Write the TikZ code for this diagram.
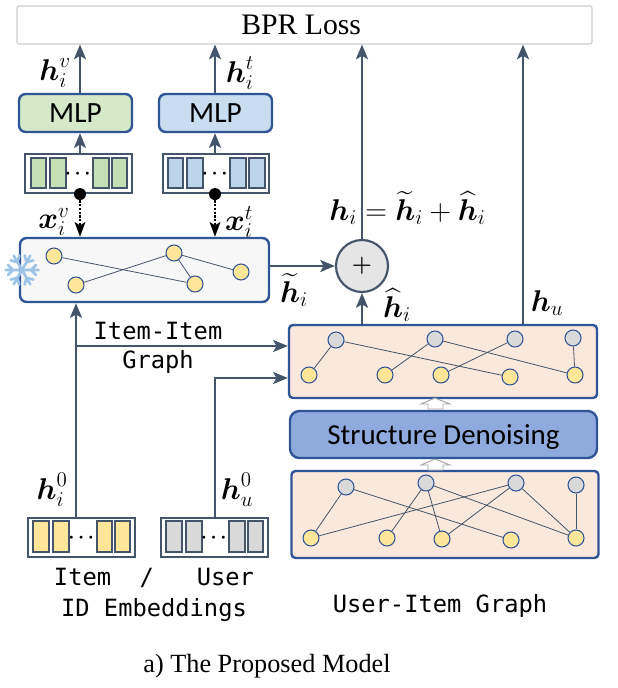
\documentclass[tikz,border=0pt]{standalone}
\usepackage{fix-cm}
\usepackage{amsmath}
\usepackage{fontspec}
\setmainfont{Liberation Serif}
\setmonofont{DejaVu Sans Mono}
\newfontfamily\calibrifont{Carlito}
\usetikzlibrary{arrows.meta}

\definecolor{boxblue}{HTML}{2F5597}
\definecolor{slate}{HTML}{44546A}
\definecolor{yellowfill}{HTML}{FFE699}
\definecolor{grayfill}{HTML}{D9D9D9}
\definecolor{peach}{HTML}{FBE8DC}
\definecolor{mlpgreen}{HTML}{D5E8C8}
\definecolor{mlpblue}{HTML}{C9DDF1}
\definecolor{cellgreen}{HTML}{C5DFB4}
\definecolor{cellblue}{HTML}{BBD4EC}
\definecolor{denoiseblue}{HTML}{8FAADC}
\definecolor{flake}{HTML}{9DC3E6}

\tikzset{
  box/.style={draw=boxblue,line width=1.8pt,rounded corners=5pt,inner sep=0pt},
  arrow/.style={draw=slate,line width=1.8pt,-{Stealth[length=11pt,width=9pt,inset=2.5pt]}},
  edge/.style={draw=slate,line width=0.6pt},
  vecbox/.style={draw=slate,line width=1.6pt},
  cell/.style={draw=slate,line width=1.2pt},
  item/.style={circle,draw=boxblue,line width=0.8pt,fill=yellowfill,minimum size=12pt,inner sep=0pt},
  user/.style={item,fill=grayfill},
  eq/.style={font=\fontsize{22.5}{25}\selectfont},
  mono/.style={font=\fontsize{17.8}{20}\ttfamily},
  hollow/.style={draw=gray!70,line width=0.7pt,fill=white}
}

\begin{document}
\begin{tikzpicture}[x=0.75pt,y=-0.75pt]
  \useasboundingbox (0,0) rectangle (617,688);

  % columns of the vertical arrows
  \coordinate (colv) at (80,0);
  \coordinate (colt) at (215,0);
  \coordinate (coli) at (76,0);
  \coordinate (colu) at (215,0);
  \coordinate (colh) at (362,0);
  \coordinate (colhu) at (523,0);

  % loss
  \node[draw=gray!40,line width=0.8pt,rounded corners=1.5pt,minimum width=575*0.75pt,minimum height=38*0.75pt,
        inner sep=0pt,font=\fontsize{22.3}{24}\selectfont] (bpr) at (304.5,25) {\hspace{-5pt}BPR Loss};

  % MLP
  \node[box,fill=mlpgreen,minimum width=113*0.75pt,minimum height=38*0.75pt,font=\fontsize{22}{24}\calibrifont] (mlpv) at (75.5,113) {MLP};
  \node[box,fill=mlpblue,minimum width=113*0.75pt,minimum height=38*0.75pt,font=\fontsize{22}{24}\calibrifont] (mlpt) at (215.5,113) {MLP};

  % feature vectors
  \node[vecbox,minimum width=107*0.75pt,minimum height=39*0.75pt,inner sep=0pt] (vecv) at (78.5,173.5) {};
  \node[vecbox,minimum width=106*0.75pt,minimum height=39*0.75pt,inner sep=0pt] (vect) at (216,173.5) {};
  \foreach \a/\b in {31/46,50/66,93/109,112/127}
    \draw[cell,fill=cellgreen] (\a,158) rectangle (\b,188);
  \foreach \a/\b in {168/183,187/203,230/246,249/265}
    \draw[cell,fill=cellblue] (\a,158) rectangle (\b,188);
  \node[font=\Large] (dotsv) at (79.5,174) {$\boldsymbol{\cdots}$};
  \node[font=\Large] (dotst) at (216.5,174) {$\boldsymbol{\cdots}$};

  % frozen item graph
  \node[box,fill=black!3,minimum width=249*0.75pt,minimum height=64*0.75pt] (frozen) at (144.5,270) {};
  \foreach \r in {0,60,...,300}{
    \draw[flake,line width=2pt,line cap=round] (22,270) -- ++(\r:16.5)
      (22,270) ++(\r:9) -- ++(\r+45:7) (22,270) ++(\r:9) -- ++(\r-45:7);
  }
  \node[item] (fa) at (54,256) {};
  \node[item] (fb) at (76,285) {};
  \node[item] (fc) at (174,253) {};
  \node[item] (fd) at (195,284) {};
  \node[item] (fe) at (241,272) {};
  \draw[edge] (fa) -- (fd);
  \draw[edge] (fb) -- (fc);
  \draw[edge] (fc) -- (fd);
  \draw[edge] (fc) -- (fe);

  % learned graph
  \node[box,fill=peach,rounded corners=3pt,minimum width=308*0.75pt,minimum height=73*0.75pt] (learned) at (443,361.5) {};
  \node[user] (lu1) at (336,340) {};
  \node[user] (lu2) at (435,339) {};
  \node[user] (lu3) at (515,339) {};
  \node[user] (lu4) at (573,338) {};
  \node[item] (li1) at (309,375) {};
  \node[item] (li2) at (385,375) {};
  \node[item] (li3) at (441,375) {};
  \node[item] (li4) at (510,377) {};
  \node[item] (li5) at (575,375) {};
  \foreach \a/\b in {lu1/li1,lu1/li4,lu2/li2,lu2/li5,lu3/li3,lu4/li5}
    \draw[edge] (\a) -- (\b);

  % denoising
  \node[box,fill=denoiseblue,rounded corners=7pt,minimum width=307*0.75pt,minimum height=47*0.75pt] (denoise) at (443.5,434.5) {};
  \node[font=\fontsize{21.7}{24}\calibrifont] (denoisetext) at (443.5,437) {Structure Denoising};

  % user-item graph
  \node[box,fill=peach,rounded corners=3pt,minimum width=307*0.75pt,minimum height=87*0.75pt] (uigraph) at (445,514.5) {};
  \node[user] (gu1) at (346,487) {};
  \node[user] (gu2) at (426,483) {};
  \node[user] (gu3) at (516,483) {};
  \node[user] (gu4) at (576,485) {};
  \node[item] (gi1) at (311,538) {};
  \node[item] (gi2) at (387,538) {};
  \node[item] (gi3) at (442,539) {};
  \node[item] (gi4) at (511,540) {};
  \node[item] (gi5) at (576,538) {};
  \foreach \a/\b in {gu1/gi1,gu1/gi4,gu2/gi2,gu2/gi3,gu2/gi5,gu3/gi1,gu3/gi3,gu3/gi5,gu4/gi5}
    \draw[edge] (\a) -- (\b);

  % hollow arrows
  \foreach \t in {398,459}
    \draw[hollow] (435,\t) -- (450,\t+6) -- (443,\t+6) -- (443,\t+11) -- (428,\t+11) -- (428,\t+6) -- (421,\t+6) -- cycle;

  % id embeddings
  \node[vecbox,minimum width=107*0.75pt,minimum height=39*0.75pt,inner sep=0pt] (vecitem) at (81.5,537.5) {};
  \node[vecbox,minimum width=107*0.75pt,minimum height=39*0.75pt,inner sep=0pt] (vecuser) at (214.5,537.5) {};
  \foreach \a/\b in {33/49,53/69,97/112,115/130}
    \draw[cell,fill=yellowfill] (\a,521) rectangle (\b,552);
  \foreach \a/\b in {166/182,186/202,229/245,248/263}
    \draw[cell,fill=grayfill] (\a,521) rectangle (\b,552);
  \node[font=\Large] (dotsi) at (83,538) {$\boldsymbol{\cdots}$};
  \node[font=\Large] (dotsu) at (215.5,538) {$\boldsymbol{\cdots}$};

  % sum
  \node[circle,draw=slate,line width=1.6pt,fill=black!10,minimum size=52*0.75pt,inner sep=0pt,font=\LARGE] (sum) at (362,266) {$\boldsymbol{+}$};

  % arrows
  \draw[arrow] (colv |- mlpv.north) -- (colv |- bpr.south);
  \draw[arrow] (colt |- mlpt.north) -- (colt |- bpr.south);
  \draw[arrow] (colv |- vecv.north) -- (colv |- mlpv.south);
  \draw[arrow] (colt |- vect.north) -- (colt |- mlpt.south);
  \node[circle,fill=black,minimum size=9pt,inner sep=0pt] (dotv) at (colv |- vecv.south) {};
  \node[circle,fill=black,minimum size=9pt,inner sep=0pt] (dott) at (colt |- vect.south) {};
  \draw[black,line width=1.8pt,densely dotted,-{Stealth[length=11pt,width=8pt,inset=2.5pt]}] (dotv) -- (colv |- frozen.north);
  \draw[black,line width=1.8pt,densely dotted,-{Stealth[length=11pt,width=8pt,inset=2.5pt]}] (dott) -- (colt |- frozen.north);
  \draw[arrow] (coli |- vecitem.north) -- (coli |- frozen.south);
  \coordinate (branch) at (76,346);
  \draw[arrow,line width=1.5pt] (branch) -- (branch -| learned.west);
  \coordinate (bend) at (215,378);
  \draw[arrow,line width=1.5pt] (colu |- vecuser.north) -- (bend) -- (bend -| learned.west);
  \draw[arrow,line width=1.5pt] (frozen.east |- sum.west) -- (sum.west);
  \draw[arrow] (colh |- learned.north) -- (sum.south);
  \draw[arrow] (sum.north) -- (colh |- bpr.south);
  \draw[arrow] (colhu |- learned.north) -- (colhu |- bpr.south);

  % formulas
  \node[eq] (hv) at (55,73) {$\boldsymbol{h}_i^{v}$};
  \node[eq] (ht) at (240,73) {$\boldsymbol{h}_i^{t}$};
  \node[eq] (xv) at (54,222) {$\boldsymbol{x}_i^{v}$};
  \node[eq] (xt) at (239,222) {$\boldsymbol{x}_i^{t}$};
  \node[eq,inner sep=0pt] (hsum) at (407.5,208) {$\boldsymbol{h}_i=\widetilde{\boldsymbol{h}}_i+\widehat{\boldsymbol{h}}_i$};
  \node[eq,inner sep=0pt] (htil) at (294,290) {$\widetilde{\boldsymbol{h}}_i$};
  \node[eq,inner sep=0pt] (hhat) at (397,305) {$\widehat{\boldsymbol{h}}_i$};
  \node[eq,inner sep=0pt] (hu) at (547,303) {$\boldsymbol{h}_u$};
  \node[eq] (hi0) at (52,490) {$\boldsymbol{h}_i^{0}$};
  \node[eq] (hu0) at (237,490) {$\boldsymbol{h}_u^{0}$};

  % names
  \node[mono] (iigraph) at (158,331) {Item-Item};
  \node[mono] (iigraphb) at (158,362) {Graph};
  \node[mono] (iu) at (154,578) {Item\ \ /\ \ \ User};
  \node[mono] (idemb) at (154,610) {ID Embeddings};
  \node[mono] (uilabel) at (440,606) {User-Item Graph};
  \node[font=\fontsize{19.7}{22}\selectfont] (caption) at (267,666.5) {a) The Proposed Model};
\end{tikzpicture}
\end{document}
